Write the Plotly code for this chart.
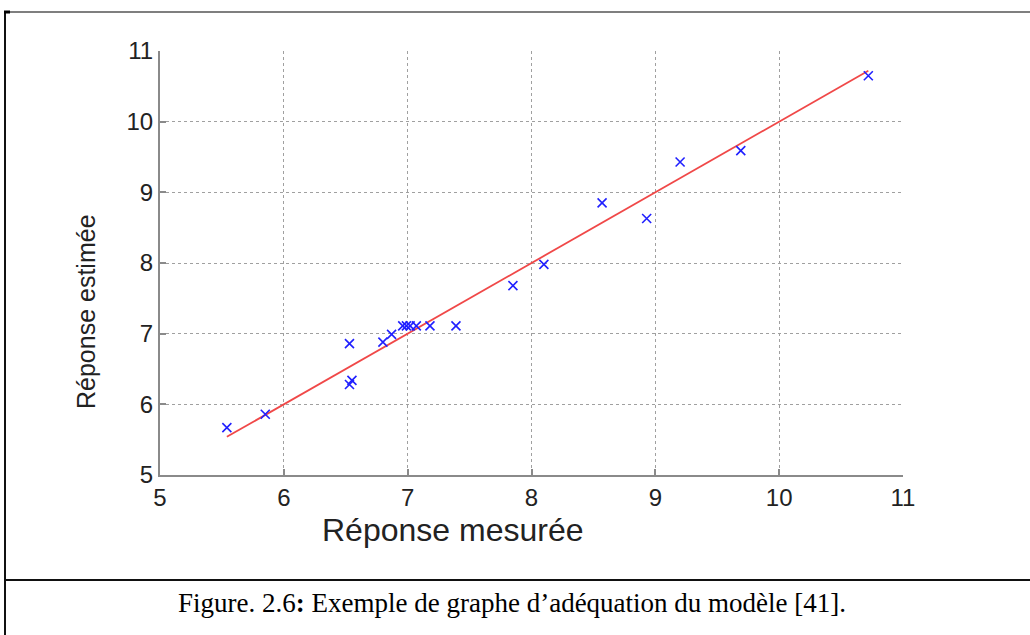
import plotly.graph_objects as go

# Data
mesuree = [5.54, 5.85, 6.53, 6.55, 6.53, 6.80, 6.87, 6.96, 6.99, 7.02, 7.07, 7.18,
           7.39, 7.85, 8.10, 8.57, 8.93, 9.20, 9.69, 10.72]
estimee = [5.67, 5.86, 6.86, 6.34, 6.28, 6.88, 6.99, 7.11, 7.11, 7.11, 7.11, 7.11,
           7.11, 7.68, 7.98, 8.85, 8.63, 9.43, 9.59, 10.65]
fit_x = [min(mesuree), max(mesuree)]
fit_y = fit_x[:]  # identity line y = x
x_ticks = [5, 6, 7, 8, 9, 10, 11]
y_ticks = [5, 6, 7, 8, 9, 10, 11]

W, H = 1030, 635
L, R, T, B = 160, 127, 51, 160
PW, PH = W - L - R, H - T - B


def px(x):
    return (x - L) / PW


def py(y):
    return (H - B - y) / PH


fig = go.Figure()
fig.add_trace(go.Scatter(x=fit_x, y=fit_y, mode="lines",
                         line=dict(color="#f04848", width=1.8), showlegend=False))
fig.add_trace(go.Scatter(x=mesuree, y=estimee, mode="markers",
                         marker=dict(symbol="x-thin", size=9,
                                     line=dict(color="#2020ff", width=1.6)),
                         showlegend=False))

axis_common = dict(
    showgrid=True, gridcolor="#a0a0a0", griddash="dot", gridwidth=1,
    showline=True, linecolor="#8a8a8a", linewidth=2,
    ticks="inside", ticklen=6, tickcolor="#8a8a8a", tickwidth=1.5,
    tickfont=dict(family="Liberation Sans, Arial, sans-serif", size=24, color="#222222"),
    zeroline=False, mirror=False,
)
fig.update_xaxes(range=[5, 11], tickvals=x_ticks, ticktext=[str(t) for t in x_ticks],
                 **axis_common)
fig.update_yaxes(range=[5, 11], tickvals=y_ticks, ticktext=[str(t) for t in y_ticks],
                 **axis_common)

fig.update_layout(
    width=W, height=H,
    margin=dict(l=L, r=R, t=T, b=B),
    paper_bgcolor="white", plot_bgcolor="white",
    annotations=[
        dict(text="Réponse mesurée", x=px(452), y=py(530), xref="paper", yref="paper",
             showarrow=False, xanchor="center", yanchor="middle",
             font=dict(family="Liberation Sans, Arial, sans-serif", size=32, color="#222222")),
        dict(text="Réponse estimée", x=px(86), y=py(312), xref="paper", yref="paper",
             showarrow=False, xanchor="center", yanchor="middle", textangle=-90,
             font=dict(family="Liberation Sans, Arial, sans-serif", size=25, color="#222222")),
        dict(text="Figure. 2.6<b>:</b> Exemple de graphe d’adéquation du modèle [41].",
             x=px(512), y=py(603), xref="paper", yref="paper",
             showarrow=False, xanchor="center", yanchor="middle",
             font=dict(family="Liberation Serif, Times New Roman, serif", size=27, color="#000000")),
    ],
    shapes=[
        dict(type="line", xref="paper", yref="paper", x0=px(4), x1=px(1030), y0=py(12), y1=py(12),
             line=dict(color="#555555", width=1.5)),
        dict(type="line", xref="paper", yref="paper", x0=px(5), x1=px(5), y0=py(11), y1=py(640),
             line=dict(color="#111111", width=2)),
        dict(type="line", xref="paper", yref="paper", x0=px(4), x1=px(10), y0=py(12), y1=py(12),
             line=dict(color="#000000", width=3)),
        dict(type="line", xref="paper", yref="paper", x0=px(4), x1=px(1030), y0=py(580), y1=py(580),
             line=dict(color="#111111", width=2)),
    ],
)

fig.write_html("out.html", config={"displayModeBar": False},
               post_script="document.body.style.margin='0px';document.body.style.overflow='hidden';")
